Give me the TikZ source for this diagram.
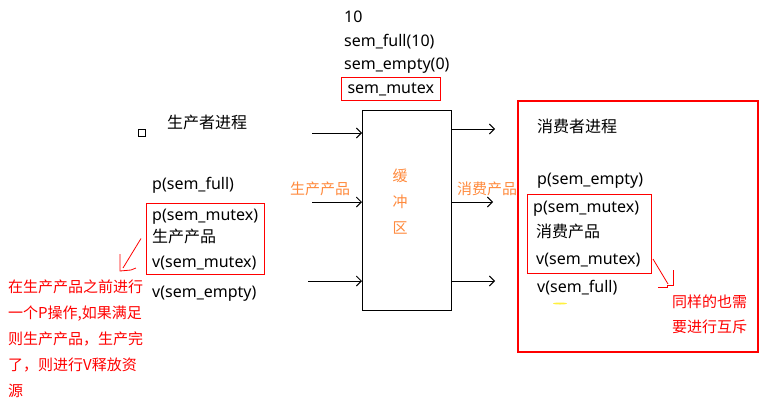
\documentclass[tikz,border=0pt]{standalone}
\usepackage{fontspec}
\setmainfont{Noto Sans}
\newfontfamily\cjk{Noto Sans CJK SC}
\usepackage{tikz}
\usetikzlibrary{arrows.meta, positioning}
\definecolor{pred}{HTML}{FF0000}
\definecolor{porange}{HTML}{FF8A3D}
\definecolor{pyellow}{HTML}{FFF040}
\tikzset{
  code/.style={font=\fontsize{16}{19}\selectfont, anchor=base west, inner sep=0pt},
  hanzi/.style={font=\cjk\fontsize{16}{19}\selectfont, anchor=base west, inner sep=0pt},
  remark/.style={font=\cjk\fontsize{15}{18}\selectfont, text=pred, anchor=base west, inner sep=0pt},
  flowtext/.style={font=\cjk\fontsize{15}{18}\selectfont, text=porange, inner sep=0pt},
  flow/.style={line width=0.9pt, -{Straight Barb[length=5pt, width=10pt]}},
  mutexbox/.style={draw=pred, line width=1pt, inner sep=0pt, anchor=north west},
  note/.style={pred, line width=0.8pt},
}

\begin{document}
\begin{tikzpicture}[x=1pt, y=-1pt]
\useasboundingbox (0,0) rectangle (767,413);

% semaphores on top
\node[code] (semN) at (344,22) {10};
\node[code] (semFull) at (344,46) {sem\_full(10)};
\node[code] (semEmpty) at (344,69) {sem\_empty(0)};
\node[code, draw=pred, line width=1pt, inner xsep=6pt, inner ysep=3.5pt,
  text height=12pt, text depth=4pt] (semMutex) at (341,93) {sem\_mutex};

% buffer
\node[draw, line width=0.9pt, minimum width=89pt, minimum height=200pt, inner sep=0pt,
  anchor=north west] (buf) at (362,110) {};
\foreach \ch/\yy [count=\i] in {缓/181, 冲/207, 区/233}
  \node[flowtext, anchor=base] (bufCh\i) at (400,\yy) {\ch};

% producer side arrows
\coordinate (inA) at (312,133);
\coordinate (inB) at (312,202);
\coordinate (inC) at (308,281);
\foreach \c in {inA, inB, inC}
  \draw[flow] (\c) -- (\c -| buf.west);
\node[flowtext, anchor=base west] (prodLabel) at (290,194) {生产产品};

% consumer side arrows
\coordinate (outA) at (495,129);
\coordinate (outB) at (493,202);
\coordinate (outC) at (495,281);
\foreach \c in {outA, outB, outC}
  \draw[flow] (\c -| buf.east) -- (\c);
\node[flowtext, anchor=base west] (consLabel) at (457,194) {消费产品};

% producer process
\node[draw, line width=0.9pt, minimum size=7pt, inner sep=0pt] (mark) at (141.5,133) {};
\node[hanzi] (prodTitle) at (167,128) {生产者进程};
\node[code] (prodP1) at (152,189) {p(sem\_full)};
\node[mutexbox, minimum width=118pt, minimum height=71pt] (prodBox) at (146,203) {};
\node[code] (prodP2) at (152,220) {p(sem\_mutex)};
\node[hanzi] (prodWork) at (152,242) {生产产品};
\node[code] (prodV1) at (152,267) {v(sem\_mutex)};
\node[code] (prodV2) at (152,297) {v(sem\_empty)};

% producer remark
\coordinate (prodTip) at (123,268);
\draw[note] ([xshift=-5pt, yshift=0.5pt]prodBox.west) -- (prodTip);
\draw[note] (120,254) -- (120,271) -- (131,270) -- (136,268);
\foreach \txt [count=\i] in {{在生产产品之前进行}, {一个P操作,如果满足}, {则生产产品，生产完},
  {了，则进行V释放资}, {源}}
  \node[remark] (prodNote\i) at (8,{292+26*(\i-1)}) {\txt};

% consumer process
\draw[pred, line width=2pt] (518,101) rectangle (758,352);
\node[hanzi] (consTitle) at (537,132) {消费者进程};
\node[code] (consP1) at (537,184) {p(sem\_empty)};
\node[mutexbox, minimum width=124pt, minimum height=79pt] (consBox) at (527,194) {};
\node[code] (consP2) at (533,212) {p(sem\_mutex)};
\node[hanzi] (consWork) at (536,237) {消费产品};
\node[code] (consV1) at (536,264) {v(sem\_mutex)};
\node[code] (consV2) at (537,292) {v(sem\_full)};
\fill[pyellow] (560,303.5) ellipse (7pt and 1pt);

% consumer remark
\coordinate (consTip) at (668,284);
\draw[note] ([xshift=1pt, yshift=15pt]consBox.south east) -- (consTip);
\draw[note] (658,287) -- (667,287) -- (667,285) -- (673,285) -- (673,270);
\node[remark] (consNote1) at (672,307) {同样的也需};
\node[remark] (consNote2) at (672,332) {要进行互斥};
\end{tikzpicture}
\end{document}
